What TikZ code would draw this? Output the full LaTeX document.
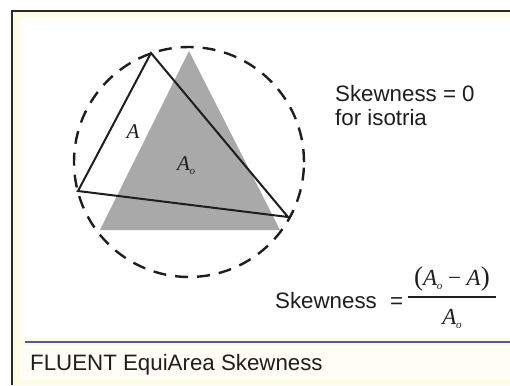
\documentclass[tikz,border=0pt]{standalone}
\usepackage{fontspec}
\setmainfont{Liberation Sans}
\newfontfamily\serifA{Liberation Serif}
\definecolor{creamA}{HTML}{FFFCE6}
\definecolor{creamB}{HTML}{FFFEF6}
\definecolor{framecol}{HTML}{2A2A2A}
\definecolor{sepcol}{HTML}{5C5A8C}
\definecolor{graytri}{HTML}{A9A9A9}
\definecolor{txt}{HTML}{1E1E1E}
\newcommand{\subo}{\kern-0.5pt\raisebox{-4pt}{\fontsize{11}{11}\selectfont\textit{o}}}
\tikzset{
  sans/.style={font=\fontsize{22.3}{22.3}\selectfont, text=txt, inner sep=0pt},
  mathlbl/.style={font=\serifA\fontsize{21}{21}\selectfont\itshape, text=txt, inner sep=0pt},
  circdash/.style={line width=2.4pt, dash pattern=on 13pt off 9pt, draw=txt},
  triline/.style={line width=2pt, draw=txt, line join=miter}
}
\begin{document}
\begin{tikzpicture}[x=1pt,y=-1pt]
\useasboundingbox (0,0) rectangle (510,385);
\fill[white] (0,0) rectangle (510,385);
\fill[creamA] (12,11) rectangle (510,385);
\fill[white] (20,18) rectangle (510,338);
\fill[creamB] (20,345) rectangle (510,380);
\draw[framecol, line width=2.2pt] (12,385) -- (12,11) -- (510,11);
\coordinate (s1) at (25,342);
\coordinate (s2) at (510,342);
\draw[sepcol, line width=1.5pt] (s1) -- (s2);
% gray equilateral triangle
\coordinate (g1) at (189,51);
\coordinate (g2) at (100,230);
\coordinate (g3) at (280,230);
\fill[graytri] (g1) -- (g2) -- (g3) -- cycle;
% circumcircle
\coordinate (c) at (189,162);
\draw[circdash] (c) circle (115pt);
% outlined triangle
\coordinate (t1) at (151,53);
\coordinate (t2) at (78,191);
\coordinate (t3) at (288,217);
\draw[triline] (t1) -- (t2) -- (t3) -- cycle;
% labels
\node[mathlbl] (la) at (133,132) {A};
\node[mathlbl, anchor=base west] (lao) at (177,170) {A\subo};
% text right
\node[sans, anchor=base west] (sk0) at (335,102) {Skewness = 0};
\node[sans, anchor=base west] (iso) at (335,125) {for isotria};
% formula
\node[sans, anchor=base west] (skf) at (275,308) {Skewness};
\node[sans, anchor=base west] (eq) at (390,308) {=};
\node[anchor=base, inner sep=0pt, text=txt] (num) at (452,285)
  {\serifA\fontsize{23}{23}\selectfont{\fontsize{27}{27}\selectfont(}\textit{A}\subo\ − \textit{A}{\fontsize{27}{27}\selectfont)}};
\coordinate (b1) at (408,297);
\coordinate (b2) at (496,297);
\draw[txt, line width=1.3pt] (b1) -- (b2);
\node[anchor=base, inner sep=0pt, text=txt] (den) at (452,324)
  {\serifA\fontsize{23}{23}\selectfont\textit{A}\subo};
% caption
\node[sans, anchor=base west] (cap) at (30,370) {FLUENT EquiArea Skewness};
\end{tikzpicture}
\end{document}
